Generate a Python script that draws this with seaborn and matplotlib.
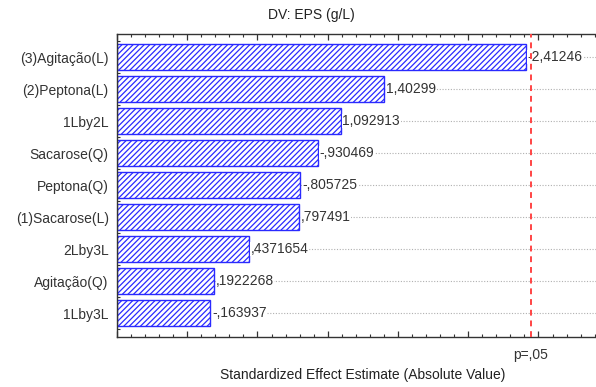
import matplotlib
matplotlib.use("Agg")
import matplotlib.pyplot as plt
from matplotlib.ticker import MultipleLocator
import seaborn as sns
import pandas as pd

# Standardized effects (signed) for each model term, ordered by magnitude
terms = ["(3)Agitação(L)", "(2)Peptona(L)", "1Lby2L", "Sacarose(Q)", "Peptona(Q)",
         "(1)Sacarose(L)", "2Lby3L", "Agitação(Q)", "1Lby3L"]
effects = [-2.41246, 1.40299, 1.092913, -0.930469, -0.805725,
           0.797491, 0.4371654, 0.1922268, -0.163937]
effect_labels = ["-2,41246", "1,40299", "1,092913", "-,930469", "-,805725",
                 ",797491", ",4371654", ",1922268", "-,163937"]
p_crit = 2.446912          # t critical value at p = .05
p_label = "p=,05"

X_MIN, X_MAX = -0.5, 3.0
FS = 10

sns.set_theme(style="white")
plt.rcParams["font.family"] = ["Liberation Sans", "DejaVu Sans"]
plt.rcParams["hatch.linewidth"] = 0.9
plt.rcParams["hatch.color"] = "#2a2aff"

df = pd.DataFrame({"term": terms, "effect": effects})
df["abs_effect"] = df["effect"].abs()

fig = plt.figure(figsize=(5.96, 3.87), dpi=100)
ax = fig.add_axes([0.1963, 0.1292, 0.825, 0.7829])

# horizontal dotted guide lines at each term
for i in range(len(terms)):
    ax.axhline(i, color="#b0b0b0", lw=0.8, ls=(0, (1, 1.5)), zorder=0)

sns.barplot(data=df, x="abs_effect", y="term", orient="h", ax=ax,
            color="white", edgecolor="#2a2aff", linewidth=1.0,
            width=0.84, zorder=2)
# bars run from the left edge of the axis out to |effect|
for bar in ax.patches:
    end = bar.get_x() + bar.get_width()
    bar.set_x(X_MIN)
    bar.set_width(end - X_MIN)
    bar.set_hatch("//////")
    bar.set_facecolor("white")

for i, (v, lab) in enumerate(zip(df["abs_effect"], effect_labels)):
    ax.text(v + 0.012, i, lab, va="center", ha="left", fontsize=FS,
            color="#333333", zorder=3,
            bbox=dict(facecolor="white", edgecolor="none", pad=0.3))

ax.axvline(p_crit, color="#ff4444", lw=1.4, ls=(0, (3, 2.5)), zorder=4)
ax.text(p_crit, -0.035, p_label, transform=ax.get_xaxis_transform(),
        ha="center", va="top", fontsize=FS, color="#333333")

ax.set_xlim(X_MIN, X_MAX)
ax.set_ylim(len(terms) - 0.25, -0.72)

ax.xaxis.set_major_locator(MultipleLocator(0.5))
ax.xaxis.set_minor_locator(MultipleLocator(0.1))
ax.tick_params(axis="x", which="both", direction="in", top=True, bottom=True,
               labelbottom=False, color="#333333")
ax.tick_params(axis="x", which="major", length=4, width=0.9)
ax.tick_params(axis="x", which="minor", length=2, width=0.8)
ax.tick_params(axis="y", which="major", length=0, pad=6, labelsize=FS,
               labelcolor="#333333")
ax.set_yticks(range(len(terms)), minor=False)
ax.set_yticks([i + 0.5 for i in range(-1, len(terms))], minor=True)
ax.tick_params(axis="y", which="minor", direction="in", left=True, length=2,
               width=0.8, color="#333333")

for s in ax.spines.values():
    s.set_color("#333333")
    s.set_linewidth(1.0)

ax.set_xlabel("Standardized Effect Estimate (Absolute Value)", fontsize=FS,
              color="#222222", labelpad=22)
ax.set_ylabel("")
fig.text(311 / 596, 1 - 15 / 387, "DV: EPS (g/L)", ha="center", va="center",
         fontsize=FS, color="#222222")

fig.savefig("out.png", dpi=100)
